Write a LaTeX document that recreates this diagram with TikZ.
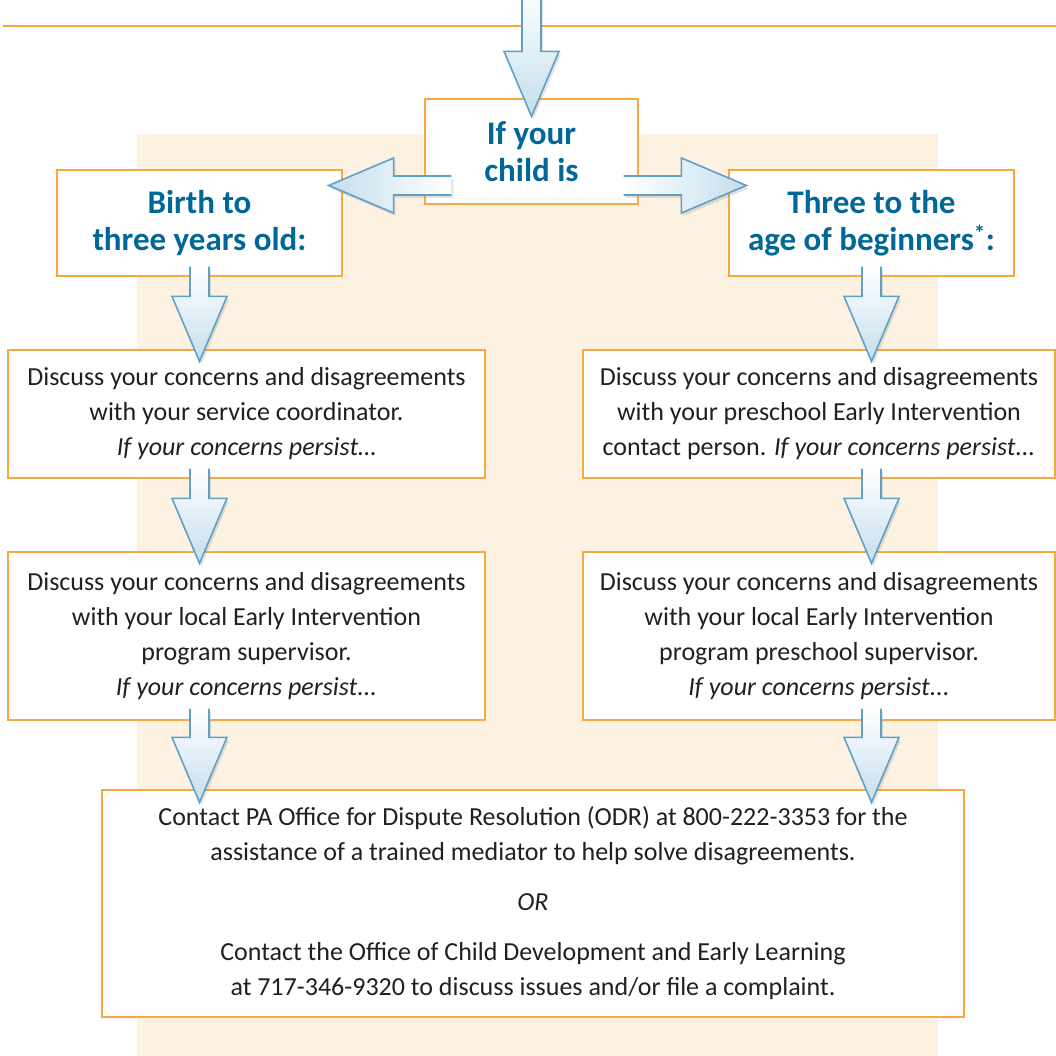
\documentclass[tikz,border=0pt]{standalone}
\usepackage{fontspec}
\setmainfont{Carlito}
\usetikzlibrary{calc,shadows}
\definecolor{edge}{RGB}{247,168,64}
\definecolor{peach}{RGB}{253,241,226}
\definecolor{headblue}{RGB}{0,104,152}
\definecolor{ink}{RGB}{35,31,32}
\definecolor{arrowline}{RGB}{95,160,200}
\definecolor{arrowfill}{RGB}{196,222,237}
% fat hollow arrow: #2 = tail, #3 = tip
\newcommand{\bigarrow}[3][top color=white,bottom color=arrowfill]{%
  \coordinate (hb) at ($(#3)!65pt!(#2)$);
  \path[#1, drop shadow={opacity=0.22,shadow xshift=2pt,shadow yshift=-3pt}]
    ($(#2)!9.5pt!90:(#3)$) -- ($(hb)!9.5pt!90:(#3)$) -- ($(hb)!27.5pt!90:(#3)$) -- (#3)
    -- ($(hb)!27.5pt!-90:(#3)$) -- ($(hb)!9.5pt!-90:(#3)$) -- ($(#2)!9.5pt!-90:(#3)$) -- cycle;
  \draw[arrowline, line width=1.6pt, line join=miter]
    ($(#2)!9.5pt!90:(#3)$) -- ($(hb)!9.5pt!90:(#3)$) -- ($(hb)!27.5pt!90:(#3)$) -- (#3)
    -- ($(hb)!27.5pt!-90:(#3)$) -- ($(hb)!9.5pt!-90:(#3)$) -- ($(#2)!9.5pt!-90:(#3)$);
}

\begin{document}
\begin{tikzpicture}[x=1pt,y=1pt]
       \tikzstyle{box} = [rectangle, draw=edge, line width=1.3pt, fill=white, align=center, text=ink, font=\fontsize{26}{35}\selectfont];
       \tikzstyle{head} = [box, text=headblue, font=\bfseries\fontsize{33}{37}\selectfont];
       \useasboundingbox (0,0) rectangle (1056,1056);
       \fill[peach] (137,0) rectangle (938,922);
       \draw[edge, line width=2pt] (3,1030) -- (1056,1030);

       \node[head, minimum width=213pt, minimum height=105pt] (child) at (531.5,904.5) {If your\\child is};
       \node[head, minimum width=285pt, minimum height=106pt] (birth) at (199.5,833) {Birth to\\three years old:};
       \node[head, minimum width=285pt, minimum height=106pt] (three) at (871.5,833) {Three to the\\age of beginners\textsuperscript{*}:};

       \node[box, minimum width=477pt, minimum height=128pt] (svc) at (246.5,642) {Discuss your concerns and disagreements\\with your service coordinator.\\\textit{If your concerns persist\ldots}};
       \node[box, minimum width=477pt, minimum height=168pt] (local) at (246.5,420) {Discuss your concerns and disagreements\\with your local Early Intervention\\program supervisor.\\\textit{If your concerns persist...}};
       \node[box, minimum width=472pt, minimum height=128pt] (pre) at (819,642) {Discuss your concerns and disagreements\\with your preschool Early Intervention\\contact person. \textit{If your concerns persist...}};
       \node[box, minimum width=472pt, minimum height=168pt] (prelocal) at (819,420) {Discuss your concerns and disagreements\\with your local Early Intervention\\program preschool supervisor.\\\textit{If your concerns persist...}};

       \node[box, minimum width=862pt, minimum height=227pt] (odr) at (533,152.5) {Contact PA Office for Dispute Resolution (ODR) at 800-222-3353 for the\\assistance of a trained mediator to help solve disagreements.\\[15pt]\textit{OR}\\[15pt]Contact the Office of Child Development and Early Learning\\at 717-346-9320 to discuss issues and/or file a complaint.};

       \coordinate (start) at (531.5,1070);
       \bigarrow{start}{$(child.north)+(0,-18)$}
       \bigarrow[left color=arrowfill,right color=white]{$(child.west)+(27,-34)$}{$(birth.east |- child.west)+(-14,-34)$}
       \bigarrow[left color=white,right color=arrowfill]{$(child.east)+(-15,-34)$}{$(three.west |- child.east)+(18,-34)$}

       \bigarrow{$(birth.south)+(0,10)$}{$(birth.south |- svc.north)+(0,-12)$}
       \bigarrow{$(birth.south |- svc.south)+(0,10)$}{$(birth.south |- local.north)+(0,-12)$}
       \bigarrow{$(birth.south |- local.south)+(0,12)$}{$(birth.south |- odr.north)+(0,-13)$}

       \bigarrow{$(three.south)+(0,10)$}{$(three.south |- pre.north)+(0,-12)$}
       \bigarrow{$(three.south |- pre.south)+(0,10)$}{$(three.south |- prelocal.north)+(0,-12)$}
       \bigarrow{$(three.south |- prelocal.south)+(0,12)$}{$(three.south |- odr.north)+(0,-13)$}
\end{tikzpicture}
\end{document}
